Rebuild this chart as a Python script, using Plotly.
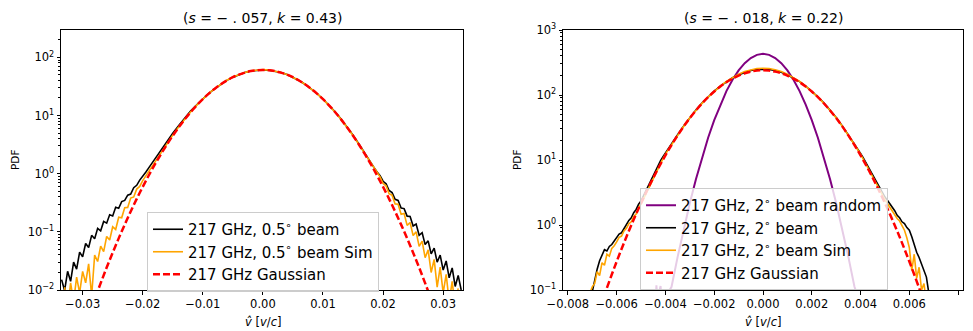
import plotly.graph_objects as go

# ---------------- Left panel: 0.5 deg beam ----------------
x05_black = [-0.0335, -0.0330, -0.0325, -0.0320, -0.0315, -0.0310, -0.0305, -0.0300, -0.0295, -0.0290,
             -0.0285, -0.0280, -0.0275, -0.0270, -0.0265, -0.0260, -0.0255, -0.0250, -0.0245, -0.0240,
             -0.0235, -0.0230, -0.0225, -0.0220, -0.0215, -0.0210, -0.0205, -0.0200, -0.0195, -0.0190,
             -0.0185, -0.0180, -0.0175, -0.0170, -0.0165,
             -0.016, -0.015, -0.014, -0.013, -0.012, -0.011, -0.010, -0.009, -0.008, -0.007, -0.006,
             -0.005, -0.004, -0.003, -0.002, -0.001, 0.000, 0.001, 0.002, 0.003, 0.004, 0.005, 0.006,
             0.007, 0.008, 0.009, 0.010, 0.011, 0.012, 0.013, 0.014, 0.015, 0.016,
             0.0165, 0.0170, 0.0175, 0.0180, 0.0185, 0.0190, 0.0195, 0.0200, 0.0205, 0.0210, 0.0215,
             0.0220, 0.0225, 0.0230, 0.0235, 0.0240, 0.0245, 0.0250, 0.0255, 0.0260, 0.0265, 0.0270,
             0.0275, 0.0280, 0.0285, 0.0290, 0.0295, 0.0300, 0.0305, 0.0310, 0.0315, 0.0320, 0.0325,
             0.0330]
pdf05_black = [0.0151, 0.0098, 0.0210, 0.0141, 0.0302, 0.0229, 0.0447, 0.0372, 0.0631, 0.0537,
               0.0871, 0.0759, 0.115, 0.104, 0.151, 0.141, 0.197, 0.188, 0.265, 0.254,
               0.331, 0.347, 0.427, 0.447, 0.575, 0.631, 0.776, 0.891, 1.06, 1.26,
               1.50, 1.78, 2.11, 2.51, 2.99,
               3.55, 4.95, 6.76, 9.2, 12.0, 15.3, 19.3, 24.0, 29.0, 34.5, 40.1,
               45.6, 50.5, 54.8, 58.1, 60.1, 60.8, 60.1, 58.1, 54.8, 50.5, 45.6, 40.1,
               34.5, 29.0, 23.9, 19.2, 15.0, 11.6, 8.7, 6.4, 4.6, 3.2,
               2.63, 2.19, 1.82, 1.51, 1.27, 1.07, 0.923, 0.741, 0.668, 0.513, 0.473,
               0.363, 0.347, 0.257, 0.251, 0.186, 0.184, 0.126, 0.136, 0.0871, 0.0966, 0.0603,
               0.0700, 0.0417, 0.0525, 0.0302, 0.0398, 0.0220, 0.0316, 0.0162, 0.0240, 0.0115, 0.0178,
               0.0100]

x05_sim = [-0.0330, -0.0325, -0.0320, -0.0315, -0.0310, -0.0305, -0.0300, -0.0295, -0.0290, -0.0285,
           -0.0280, -0.0275, -0.0270, -0.0265, -0.0260, -0.0255, -0.0250, -0.0245, -0.0240, -0.0235,
           -0.0230, -0.0225, -0.0220, -0.0215, -0.0210, -0.0205, -0.0200, -0.0195, -0.0190, -0.0185,
           -0.0180, -0.0175, -0.0170, -0.0165,
           -0.016, -0.015, -0.014, -0.013, -0.012, -0.011, -0.010, -0.009, -0.008, -0.007, -0.006,
           -0.005, -0.004, -0.003, -0.002, -0.001, 0.000, 0.001, 0.002, 0.003, 0.004, 0.005, 0.006,
           0.007, 0.008, 0.009, 0.010, 0.011, 0.012, 0.013, 0.014, 0.015, 0.016,
           0.0165, 0.0170, 0.0175, 0.0180, 0.0185, 0.0190, 0.0195, 0.0200, 0.0205, 0.0210, 0.0215,
           0.0220, 0.0225, 0.0230, 0.0235, 0.0240, 0.0245, 0.0250, 0.0255, 0.0260, 0.0265, 0.0270,
           0.0275, 0.0280, 0.0285, 0.0290, 0.0295, 0.0300, 0.0305, 0.0310, 0.0315, 0.0320, 0.0325]
pdf05_sim = [0.0112, 0.00447, 0.0132, 0.0063, 0.0166, 0.00891, 0.0209, 0.0133, 0.0282, 0.00794,
             0.0398, 0.0309, 0.0569, 0.0457, 0.0832, 0.0724, 0.122, 0.110, 0.178, 0.174,
             0.260, 0.263, 0.380, 0.398, 0.543, 0.603, 0.759, 0.912, 1.10, 1.32,
             1.58, 1.88, 2.24, 2.66,
             3.16, 4.6, 6.4, 8.75, 11.6, 15.1, 19.2, 24.0, 29.0, 34.6, 40.3,
             45.8, 50.8, 55.1, 58.5, 60.6, 61.5, 60.5, 58.4, 55.0, 50.6, 45.7, 40.1,
             34.5, 28.9, 23.8, 19.1, 14.9, 11.5, 8.6, 6.3, 4.55, 3.15,
             2.57, 2.19, 1.82, 1.51, 1.26, 1.04, 0.881, 0.676, 0.617, 0.452, 0.427,
             0.302, 0.299, 0.200, 0.207, 0.129, 0.145, 0.0861, 0.100, 0.0562, 0.0692, 0.0359,
             0.0490, 0.0200, 0.0335, 0.0112, 0.0248, 0.00891, 0.0186, 0.0063, 0.0141, 0.0050, 0.0107]

x05_gauss = [-0.029, -0.028, -0.027, -0.026, -0.025, -0.024, -0.023, -0.022, -0.021, -0.020,
             -0.019, -0.018, -0.017, -0.016, -0.015, -0.014, -0.013, -0.012, -0.011, -0.010,
             -0.009, -0.008, -0.007, -0.006, -0.005, -0.004, -0.003, -0.002, -0.001, 0.000,
             0.001, 0.002, 0.003, 0.004, 0.005, 0.006, 0.007, 0.008, 0.009, 0.010,
             0.011, 0.012, 0.013, 0.014, 0.015, 0.016, 0.017, 0.018, 0.019, 0.020,
             0.021, 0.022, 0.023, 0.024, 0.025, 0.026, 0.027, 0.028, 0.029]
pdf05_gauss = [0.00359, 0.00696, 0.0131, 0.0243, 0.0438, 0.0772, 0.133, 0.224, 0.369, 0.592,
               0.931, 1.43, 2.14, 3.14, 4.49, 6.28, 8.58, 11.5, 14.96, 19.1,
               23.8, 28.9, 34.4, 40.0, 45.5, 50.4, 54.7, 58.0, 60.0, 60.7,
               60.0, 58.0, 54.7, 50.4, 45.5, 40.0, 34.4, 28.9, 23.8, 19.1,
               14.96, 11.5, 8.58, 6.28, 4.49, 3.14, 2.14, 1.43, 0.931, 0.592,
               0.369, 0.224, 0.133, 0.0772, 0.0438, 0.0243, 0.0131, 0.00696, 0.00359]

# ---------------- Right panel: 2 deg beam ----------------
x2_random = [-0.0044, -0.00437, -0.00433, -0.0042, -0.00415, -0.0040, -0.0039, -0.0038,
             -0.00375, -0.0035, -0.00325, -0.0030, -0.00275, -0.0025, -0.00225, -0.0020, -0.00175,
             -0.0015, -0.00125, -0.0010, -0.00075, -0.0005, -0.00025, 0.0, 0.00025, 0.0005, 0.00075,
             0.0010, 0.00125, 0.0015, 0.00175, 0.0020, 0.00225, 0.0025, 0.00275, 0.0030, 0.00325,
             0.0035, 0.00375, 0.0038, 0.0039, 0.0041]
pdf2_random = [0.06, 0.118, 0.07, 0.115, 0.06, 0.08, 0.09, 0.105,
               0.112, 0.323, 0.871, 2.18, 5.07, 10.96, 22.0, 41.1, 71.2,
               114.7, 171.8, 239, 309, 371, 414.5, 430, 414.5, 371, 309,
               239, 171.8, 114.7, 71.2, 41.1, 22.0, 10.96, 5.07, 2.18, 0.871,
               0.323, 0.112, 0.10, 0.07, 0.05]

x2_black = [-0.0071, -0.0070, -0.0069, -0.0068, -0.0067, -0.0066, -0.0065, -0.0064, -0.0063, -0.0062,
            -0.0061, -0.0060, -0.0059, -0.0058, -0.0057, -0.0056, -0.0055, -0.0054, -0.0053, -0.0052,
            -0.0051, -0.0050, -0.0049, -0.0048, -0.0047, -0.0046, -0.0045, -0.0044, -0.0043, -0.0042,
            -0.0041, -0.0040,
            -0.00375, -0.0035, -0.00325, -0.0030, -0.00275, -0.0025, -0.00225, -0.0020, -0.00175,
            -0.0015, -0.00125, -0.0010, -0.00075, -0.0005, -0.00025, 0.0, 0.00025, 0.0005, 0.00075,
            0.0010, 0.00125, 0.0015, 0.00175, 0.0020, 0.00225, 0.0025, 0.00275, 0.0030, 0.00325,
            0.0035, 0.00375,
            0.0040, 0.0041, 0.0042, 0.0043, 0.0044, 0.0045, 0.0046, 0.0047, 0.0048, 0.0049,
            0.0050, 0.0051, 0.0052, 0.0053, 0.0054, 0.0055, 0.0056, 0.0057, 0.0058, 0.0059,
            0.0060, 0.0061, 0.0062, 0.0063, 0.0064, 0.0065, 0.0066, 0.0067, 0.0068, 0.0069]
pdf2_black = [0.0631, 0.0955, 0.151, 0.209, 0.282, 0.339, 0.417, 0.398, 0.468, 0.501,
              0.575, 0.631, 0.724, 0.759, 0.891, 1.00, 1.175, 1.288, 1.549, 1.738,
              2.089, 2.344, 2.818, 3.388, 3.981, 4.786, 5.754, 6.918, 8.318, 9.77,
              11.22, 12.88,
              17.6, 24.5, 33.5, 45.0, 58.5, 75.0, 93.5, 115, 137,
              161, 184, 205, 224, 238, 247, 250, 247, 238, 224,
              205, 184, 161, 137, 115, 93.5, 75.0, 58.5, 45.0, 33.5,
              24.5, 17.6,
              12.59, 10.96, 9.33, 7.94, 6.76, 5.75, 4.90, 4.17, 3.55, 3.09,
              2.69, 2.40, 2.14, 1.86, 1.66, 1.41, 1.29, 1.12, 1.05, 0.912,
              0.832, 0.661, 0.501, 0.380, 0.316, 0.251, 0.209, 0.158, 0.0891, 0.0501]

x2_sim = [-0.0072, -0.0071, -0.0070, -0.0069, -0.0068, -0.0067, -0.0066, -0.0065, -0.0064, -0.0063,
          -0.0062, -0.0061, -0.0060, -0.0059, -0.0058, -0.0057, -0.0056, -0.0055, -0.0054, -0.0053,
          -0.0052, -0.0051, -0.0050, -0.0049, -0.0048, -0.0047, -0.0046, -0.0045, -0.0044, -0.0043,
          -0.0042, -0.0041, -0.0040,
          -0.00375, -0.0035, -0.00325, -0.0030, -0.00275, -0.0025, -0.00225, -0.0020, -0.00175,
          -0.0015, -0.00125, -0.0010, -0.00075, -0.0005, -0.00025, 0.0, 0.00025, 0.0005, 0.00075,
          0.0010, 0.00125, 0.0015, 0.00175, 0.0020, 0.00225, 0.0025, 0.00275, 0.0030, 0.00325,
          0.0035, 0.00375,
          0.0040, 0.0041, 0.0042, 0.0043, 0.0044, 0.0045, 0.0046, 0.0047, 0.0048, 0.0049,
          0.0050, 0.0051, 0.0052, 0.0053, 0.0054, 0.0055, 0.0056, 0.0057, 0.0058, 0.0059,
          0.0060, 0.0061, 0.0062, 0.0063, 0.0064, 0.0065, 0.0066, 0.0067]
pdf2_sim = [0.0501, 0.0891, 0.112, 0.126, 0.191, 0.166, 0.263, 0.240, 0.355, 0.331,
            0.437, 0.479, 0.550, 0.646, 0.676, 0.813, 0.891, 1.047, 1.122, 1.349,
            1.479, 1.820, 2.089, 2.512, 2.951, 3.548, 4.266, 5.129, 6.166, 7.413,
            8.913, 10.47, 12.30,
            17.3, 24.2, 33.0, 44.5, 58.0, 74.5, 92.5, 114, 137,
            162, 186, 209, 230, 245, 255, 258, 255, 245, 230,
            209, 186, 162, 137, 114, 92.5, 74.5, 58.0, 44.5, 33.0,
            24.2, 17.3,
            12.30, 10.47, 8.91, 7.59, 6.31, 5.37, 4.57, 3.80, 3.24, 2.82,
            2.45, 2.14, 1.86, 1.66, 1.45, 1.26, 1.15, 1.00, 0.832, 0.631,
            0.447, 0.200, 0.355, 0.151, 0.224, 0.100, 0.126, 0.0631]

x2_gauss = [-0.0068, -0.0065, -0.0060, -0.0055, -0.0050, -0.0045, -0.0040, -0.00375, -0.0035,
            -0.00325, -0.0030, -0.00275, -0.0025, -0.00225, -0.0020, -0.00175, -0.0015, -0.00125,
            -0.0010, -0.00075, -0.0005, -0.00025, 0.0, 0.00025, 0.0005, 0.00075, 0.0010, 0.00125,
            0.0015, 0.00175, 0.0020, 0.00225, 0.0025, 0.00275, 0.0030, 0.00325, 0.0035, 0.00375,
            0.0040, 0.0045, 0.0050, 0.0055, 0.0060, 0.0065, 0.0068]
pdf2_gauss = [0.040, 0.0846, 0.274, 0.810, 2.17, 5.31, 11.8, 17.0, 23.9,
              32.9, 44.1, 57.8, 74.0, 92.6, 113.1, 134.9, 157.2, 178.9,
              198.8, 215.9, 229, 237.2, 240, 237.2, 229, 215.9, 198.8, 178.9,
              157.2, 134.9, 113.1, 92.6, 74.0, 57.8, 44.1, 32.9, 23.9, 17.0,
              11.8, 5.31, 2.17, 0.810, 0.274, 0.0846, 0.040]

names_left = ["217 GHz, 0.5<sup>∘</sup> beam", "217 GHz, 0.5<sup>∘</sup> beam Sim", "217 GHz Gaussian"]
names_right = ["217 GHz, 2<sup>∘</sup> beam random", "217 GHz, 2<sup>∘</sup> beam",
               "217 GHz, 2<sup>∘</sup> beam Sim", "217 GHz Gaussian"]
titles = ["(<i>s</i> = − . 057, <i>k</i> = 0.43)", "(<i>s</i> = − . 018, <i>k</i> = 0.22)"]

left_ytickvals = [0.01, 0.1, 1, 10, 100]
left_yticktext = ["10<sup>−2</sup>", "10<sup>−1</sup>", "10<sup>0</sup>", "10<sup>1</sup>", "10<sup>2</sup>"]
right_ytickvals = [0.1, 1, 10, 100, 1000]
right_yticktext = ["10<sup>−1</sup>", "10<sup>0</sup>", "10<sup>1</sup>", "10<sup>2</sup>", "10<sup>3</sup>"]

W, H = 973, 331
FONT = "DejaVu Sans"
RED_DASH = "7px,3px"

fig = go.Figure()
# left
fig.add_trace(go.Scatter(x=x05_black, y=pdf05_black, mode="lines", name=names_left[0],
                         line=dict(color="black", width=1.6), xaxis="x", yaxis="y", legend="legend"))
fig.add_trace(go.Scatter(x=x05_sim, y=pdf05_sim, mode="lines", name=names_left[1],
                         line=dict(color="#FFA500", width=1.6), xaxis="x", yaxis="y", legend="legend"))
fig.add_trace(go.Scatter(x=x05_gauss, y=pdf05_gauss, mode="lines", name=names_left[2],
                         line=dict(color="#FF0000", width=2.5, dash=RED_DASH, shape="spline"),
                         xaxis="x", yaxis="y", legend="legend"))
# right
fig.add_trace(go.Scatter(x=x2_random, y=pdf2_random, mode="lines", name=names_right[0],
                         line=dict(color="#800080", width=2), xaxis="x2", yaxis="y2", legend="legend2"))
fig.add_trace(go.Scatter(x=x2_black, y=pdf2_black, mode="lines", name=names_right[1],
                         line=dict(color="black", width=1.6), xaxis="x2", yaxis="y2", legend="legend2"))
fig.add_trace(go.Scatter(x=x2_sim, y=pdf2_sim, mode="lines", name=names_right[2],
                         line=dict(color="#FFA500", width=1.6), xaxis="x2", yaxis="y2", legend="legend2"))
fig.add_trace(go.Scatter(x=x2_gauss, y=pdf2_gauss, mode="lines", name=names_right[3],
                         line=dict(color="#FF0000", width=2.5, dash=RED_DASH, shape="spline"),
                         xaxis="x2", yaxis="y2", legend="legend2"))

ydom = [41 / H, 1 - 30 / H]
axis_common = dict(showline=True, linecolor="black", linewidth=1, mirror=True, showgrid=False,
                   zeroline=False, ticks="outside", ticklen=3.5, tickcolor="black",
                   tickfont=dict(family=FONT, size=11.5, color="black"), automargin=False)

fig.update_layout(
    width=W, height=H, margin=dict(l=0, r=0, t=0, b=0),
    paper_bgcolor="white", plot_bgcolor="white",
    font=dict(family=FONT, color="black"),
    xaxis=dict(domain=[61 / W, 463 / W], range=[-0.0336, 0.0333], tickvals=[-0.03, -0.02, -0.01, 0, 0.01, 0.02, 0.03],
               tickformat=".2f", anchor="y", **axis_common),
    yaxis=dict(domain=ydom, type="log", range=[-2, 2.47], tickvals=left_ytickvals, ticktext=left_yticktext,
               anchor="x", minor=dict(ticks="outside", ticklen=2, tickcolor="black", dtick="D1"), **axis_common),
    xaxis2=dict(domain=[563 / W, 963 / W], range=[-0.0082, 0.0082],
                tickvals=[-0.008, -0.006, -0.004, -0.002, 0, 0.002, 0.004, 0.006, 0.008],
                tickformat=".3f", anchor="y2", **axis_common),
    yaxis2=dict(domain=ydom, type="log", range=[-1, 3], tickvals=right_ytickvals, ticktext=right_yticktext,
                anchor="x2", minor=dict(ticks="outside", ticklen=2, tickcolor="black", dtick="D1"), **axis_common),
    legend=dict(x=147 / W, y=1 - 212 / H, xanchor="left", yanchor="top", bgcolor="rgba(255,255,255,0.8)",
                bordercolor="#cccccc", borderwidth=1, font=dict(family=FONT, size=15, color="black"),
                itemwidth=30),
    legend2=dict(x=640 / W, y=1 - 188 / H, xanchor="left", yanchor="top", bgcolor="rgba(255,255,255,0.8)",
                 bordercolor="#cccccc", borderwidth=1, font=dict(family=FONT, size=15, color="black"),
                 itemwidth=30),
    showlegend=True,
)

annotations = [
    dict(text=titles[0], x=262.5 / W, y=1 - 18 / H, xref="paper", yref="paper", showarrow=False,
         xanchor="center", yanchor="middle", font=dict(family=FONT, size=14)),
    dict(text=titles[1], x=763 / W, y=1 - 18 / H, xref="paper", yref="paper", showarrow=False,
         xanchor="center", yanchor="middle", font=dict(family=FONT, size=14)),
    dict(text="PDF", x=15 / W, y=1 - 160 / H, xref="paper", yref="paper", showarrow=False, textangle=-90,
         xanchor="center", yanchor="middle", font=dict(family=FONT, size=10.5)),
    dict(text="PDF", x=517 / W, y=1 - 160 / H, xref="paper", yref="paper", showarrow=False, textangle=-90,
         xanchor="center", yanchor="middle", font=dict(family=FONT, size=10.5)),
    dict(text="<i>v̂</i> [<i>v</i>/<i>c</i>]", x=262.5 / W, y=1 - 322 / H, xref="paper", yref="paper",
         showarrow=False, xanchor="center", yanchor="middle", font=dict(family=FONT, size=11.5)),
    dict(text="<i>v̂</i> [<i>v</i>/<i>c</i>]", x=763 / W, y=1 - 322 / H, xref="paper", yref="paper",
         showarrow=False, xanchor="center", yanchor="middle", font=dict(family=FONT, size=11.5)),
]
fig.update_layout(annotations=annotations)

fig.write_html("out.html")
